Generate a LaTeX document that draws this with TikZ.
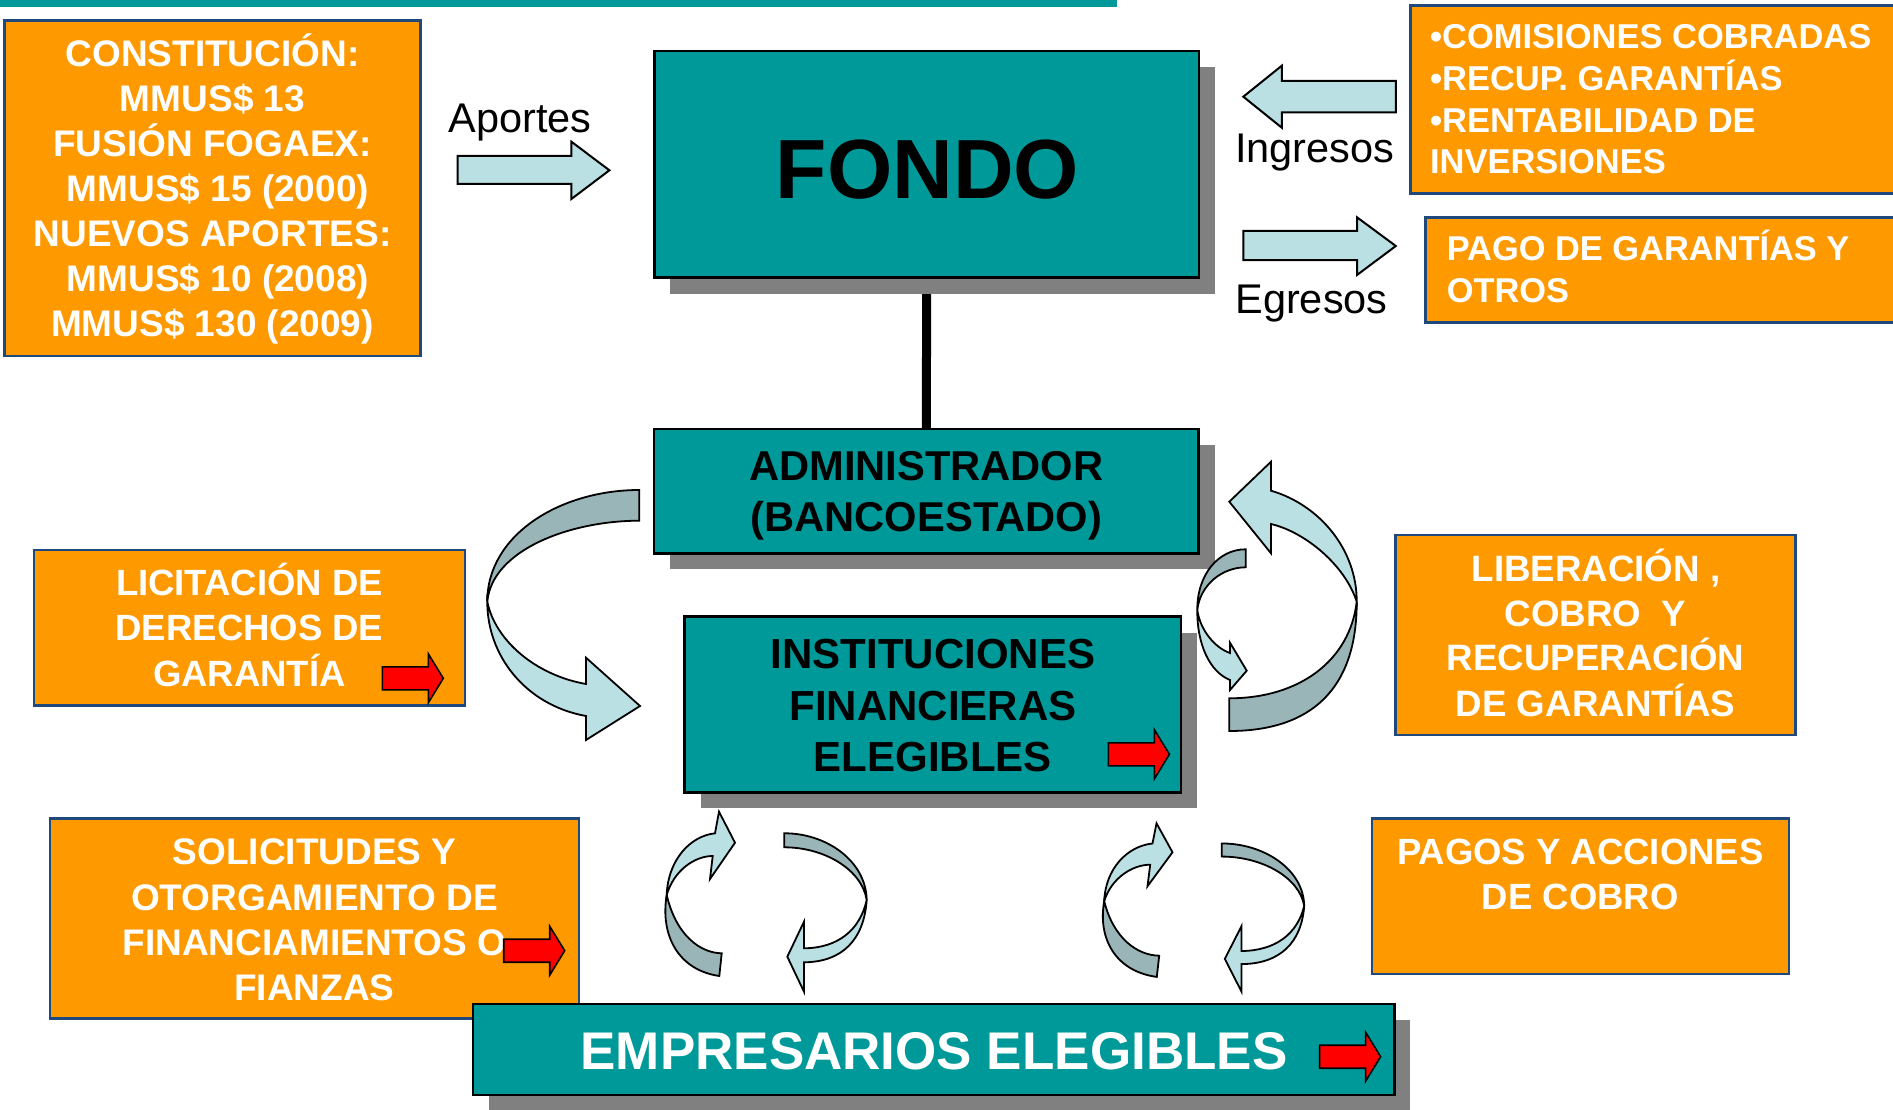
\documentclass[tikz,border=0pt]{standalone}
\usepackage{fontspec}
\setmainfont{Liberation Sans}
\definecolor{tealc}{RGB}{0,153,153}
\definecolor{orangec}{RGB}{255,153,0}
\definecolor{navyc}{RGB}{31,73,125}
\definecolor{shadowc}{RGB}{128,128,128}
\definecolor{lightc}{RGB}{187,224,227}
\definecolor{darkc}{RGB}{153,181,183}
\definecolor{redc}{RGB}{255,0,0}
\begin{document}
\begin{tikzpicture}[x=1pt,y=-1pt,
  shadowbox/.style={fill=shadowc, draw=none, anchor=north west, inner sep=0pt, outer sep=0pt},
  tealbox/.style={fill=tealc, draw=black, line width=2.5pt, anchor=north west, inner sep=0pt, outer sep=0pt},
  orangebox/.style={fill=orangec, draw=navyc, line width=2.5pt, anchor=north west, inner sep=0pt, outer sep=0pt},
  wt/.style={text=white, inner sep=0pt, anchor=base, font=\bfseries\fontsize{#1}{#1}\selectfont},
  wtl/.style={text=white, inner sep=0pt, anchor=base west, font=\bfseries\fontsize{#1}{#1}\selectfont},
  bt/.style={text=black, inner sep=0pt, anchor=base, font=\bfseries\fontsize{#1}{#1}\selectfont},
  kt/.style={text=black, inner sep=0pt, anchor=base, font=\fontsize{#1}{#1}\selectfont},
  blockarrow/.style={fill=lightc, draw=black, line width=2pt, line join=miter},
  lightpart/.style={fill=lightc, draw=black, line width=1.8pt, line join=miter},
  darkpart/.style={fill=darkc, draw=black, line width=1.8pt, line join=miter},
  redarrow/.pic={\draw[fill=redc, line width=1.6pt, line join=miter] (-61,-11.5) -- (-15,-11.5) -- (-15,-24.5) -- (0,0) -- (-15,24.5) -- (-15,11.5) -- (-61,11.5) -- cycle;}
]
\useasboundingbox (0,0) rectangle (1893,1110);
\fill[white] (0,0) rectangle (1893,1110);

% top bar
\fill[tealc] (0,0) rectangle (1117,7);

% orange boxes
\node[orangebox, minimum width=416pt, minimum height=335.3pt] (cons) at (4.5,20.7) {};
\node[orangebox, minimum width=500pt, minimum height=187.6pt] (comis) at (1410.4,5.7) {};
\node[orangebox, minimum width=480pt, minimum height=105.4pt] (pago) at (1425.4,217.3) {};
\node[orangebox, minimum width=431pt, minimum height=155.7pt] (licit) at (34,550) {};
\node[orangebox, minimum width=400pt, minimum height=200pt] (liber) at (1395.5,535) {};
\node[orangebox, minimum width=529pt, minimum height=200pt] (solic) at (50,818.3) {};
\node[orangebox, minimum width=417pt, minimum height=155.7pt] (pagos) at (1371.8,818.3) {};

% teal boxes with shadows
\node[shadowbox, minimum width=544.6pt, minimum height=226.7pt] (fondosh) at (670.4,67) {};
\node[shadowbox, minimum width=544.4pt, minimum height=124.3pt] (adminsh) at (670.1,445) {};
\node[shadowbox, minimum width=496.4pt, minimum height=175.6pt] (instsh) at (700.7,632.7) {};
\node[shadowbox, minimum width=921.2pt, minimum height=91pt] (emprsh) at (489.2,1020) {};
\node[tealbox, minimum width=544.6pt, minimum height=226.7pt] (fondo) at (654.4,51) {};
\node[tealbox, minimum width=544.4pt, minimum height=124.3pt] (admin) at (654.1,429) {};
\draw[line width=9pt] (fondo.south) -- (admin.north);
\fill[shadowc] (670.4,279) rectangle (1215,293.7);
\node[tealbox, minimum width=496.4pt, minimum height=175.6pt] (inst) at (684.7,616.7) {};
\node[tealbox, minimum width=921.2pt, minimum height=91pt] (empr) at (473.2,1004) {};

% texts
\node[wt=37] (cons1) at (212.5,66.7) {CONSTITUCIÓN:};
\node[wt=37] (cons2) at (212.5,111.7) {MMUS\$ 13};
\node[wt=37] (cons3) at (212.5,156.7) {FUSIÓN FOGAEX:};
\node[wt=37] (cons4) at (217.9,201.7) {MMUS\$ 15 (2000)};
\node[wt=37] (cons5) at (212.5,246.7) {NUEVOS APORTES:};
\node[wt=37] (cons6) at (217.9,291.7) {MMUS\$ 10 (2008)};
\node[wt=37] (cons7) at (212.5,336.7) {MMUS\$ 130 (2009)};

\node[kt=41.5] (aportes) at (520,133) {Aportes};
\node[kt=41.5] (ingresos) at (1314.8,162.7) {Ingresos};
\node[kt=41.5] (egresos) at (1311.5,313.3) {Egresos};

\node[wtl=34.5] (comis1) at (1429.8,49) {•COMISIONES COBRADAS};
\node[wtl=34.5] (comis2) at (1429.8,90.7) {•RECUP. GARANTÍAS};
\node[wtl=34.5] (comis3) at (1429.8,132.3) {•RENTABILIDAD DE};
\node[wtl=34.5] (comis4) at (1429.8,173.3) {INVERSIONES};

\node[wtl=34.4] (pago1) at (1446.6,260.7) {PAGO DE GARANTÍAS Y};
\node[wtl=34.4] (pago2) at (1446.6,302.7) {OTROS};

\node[bt=84] (fondot) at (927.5,199) {FONDO};
\node[bt=41.7] (admin1) at (926.3,480.7) {ADMINISTRADOR};
\node[bt=41.7] (admin2) at (926.3,531.7) {(BANCOESTADO)};
\node[bt=42] (inst1) at (932.9,668.3) {INSTITUCIONES};
\node[bt=42] (inst2) at (932.9,720) {FINANCIERAS};
\node[bt=42] (inst3) at (932.9,771.7) {ELEGIBLES};
\node[wt=53] (emprt) at (934,1069.3) {EMPRESARIOS ELEGIBLES};

\node[wt=36.5] (licit1) at (249.5,595) {LICITACIÓN DE};
\node[wt=36.5] (licit2) at (249.5,640.7) {DERECHOS DE};
\node[wt=36.5] (licit3) at (249.5,686.7) {GARANTÍA};

\node[wt=36.7] (liber1) at (1596,581.7) {LIBERACIÓN ,};
\node[wt=36.7] (liber2) at (1595.5,626) {COBRO\ \ Y};
\node[wt=36.7] (liber3) at (1595.5,670.7) {RECUPERACIÓN};
\node[wt=36.7] (liber4) at (1595.5,716) {DE GARANTÍAS};

\node[wt=37] (solic1) at (314.5,864) {SOLICITUDES Y};
\node[wt=37] (solic2) at (314.5,910) {OTORGAMIENTO DE};
\node[wt=37] (solic3) at (314.5,955) {FINANCIAMIENTOS O};
\node[wt=37] (solic4) at (314.5,1000) {FIANZAS};

\node[wt=36.5] (pagos1) at (1580.3,864) {PAGOS Y ACCIONES};
\node[wt=36.5] (pagos2) at (1580.3,909.3) {DE COBRO};

% red arrows
\pic at (443.3,678.3) {redarrow};
\pic at (1169.4,754.3) {redarrow};
\pic at (564.7,950.7) {redarrow};
\pic at (1380.6,1056.7) {redarrow};

% straight block arrows
\draw[blockarrow] (457.6,156) -- (571.4,156) -- (571.4,141.7) -- (609.4,170.3) -- (571.4,199) -- (571.4,184) -- (457.6,184) -- cycle;
\draw[blockarrow] (1395.8,81) -- (1281.8,81) -- (1281.8,65.7) -- (1243.3,96.7) -- (1281.8,127.7) -- (1281.8,112.3) -- (1395.8,112.3) -- cycle;
\draw[blockarrow] (1243.3,231) -- (1357,231) -- (1357,217.3) -- (1395.8,246) -- (1357,275) -- (1357,260) -- (1243.3,260) -- cycle;

% left big curved arrow
\draw[darkpart] (639.3,490) .. controls (560,490) and (487,535) .. (487.3,601.7) .. controls (492,550) and (570,520.7) .. (639.3,520.7) -- cycle;
\draw[lightpart] (487.3,601.7) .. controls (487,655) and (525,705) .. (586,716) -- (586,740) -- (640,706) -- (586,657.7) -- (586,684) .. controls (535,675) and (495,640) .. (487.3,601.7) -- cycle;

% right big curved arrow
\draw[lightpart] (1271,490.7) .. controls (1320,505) and (1357,550) .. (1356.7,601.7) .. controls (1345,565) and (1305,532) .. (1271,524) -- (1271,553.3) -- (1229.3,501.7) -- (1271,461.7) -- cycle;
\draw[darkpart] (1356.7,601.7) .. controls (1357,690) and (1310,731) .. (1229.3,731) -- (1229.3,698.3) .. controls (1300,698.3) and (1350,660) .. (1356.7,601.7) -- cycle;

% right small curved arrow
\draw[darkpart] (1245.7,549.3) .. controls (1218,549.3) and (1197,575) .. (1197.3,610) .. controls (1200,585) and (1222,567.3) .. (1245.7,567.3) -- cycle;
\draw[lightpart] (1197.3,610) .. controls (1197,645) and (1210,672) .. (1230,680) -- (1230,690) -- (1246.7,670.7) -- (1230,642.7) -- (1230,653) .. controls (1215,648) and (1200,630) .. (1197.3,610) -- cycle;

% bottom circular arrows, pair 1 and pair 2
\foreach \sx/\sc in {0/1, 437.5/0.935}{
\begin{scope}[shift={(\sx,990)}, yscale=\sc, shift={(0,-990)}]
  \draw[lightpart] (715,833.3) -- (719,811.7) -- (735,842.7) -- (710,879) -- (712.7,856) .. controls (695,856) and (674,870) .. (666.7,895) .. controls (668,860) and (690,836) .. (715,833.3) -- cycle;
  \draw[darkpart] (666.7,895) .. controls (660,935) and (678,970) .. (719.3,976) -- (721.7,953.3) .. controls (700,953) and (676,935) .. (666.7,895) -- cycle;
  \draw[darkpart] (784.3,833.3) .. controls (825,833) and (866,860) .. (866.7,900) .. controls (862,870) and (825,847.3) .. (784.3,847.3) -- cycle;
  \draw[lightpart] (866.7,900) .. controls (864,940) and (842,962) .. (804,962.3) -- (804,991.7) -- (787.3,956.7) -- (804,921.7) -- (804,948.3) .. controls (838,948) and (860,930) .. (866.7,900) -- cycle;
\end{scope}}
\end{tikzpicture}
\end{document}
